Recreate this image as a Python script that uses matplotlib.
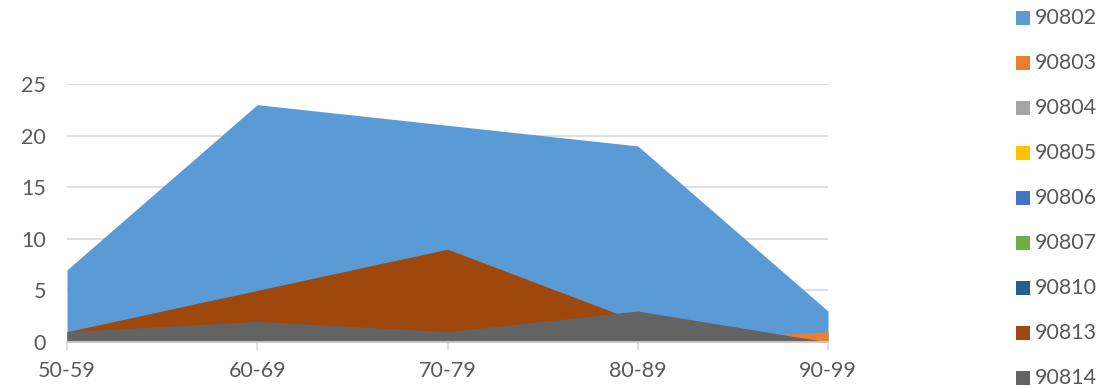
import matplotlib
matplotlib.use("Agg")
import matplotlib.pyplot as plt
from matplotlib.patches import Rectangle

categories = ["50-59", "60-69", "70-79", "80-89", "90-99"]
series_names = ["90802", "90803", "90804", "90805", "90806", "90807", "90810", "90813", "90814"]
s90802 = [7, 23, 21, 19, 3]
s90803 = [0, 0, 0, 0, 1]
s90804 = [0, 0, 0, 0, 0]
s90805 = [0, 0, 0, 0, 0]
s90806 = [0, 0, 0, 0, 0]
s90807 = [0, 0, 0, 0, 0]
s90810 = [0, 0, 0, 0, 0]
s90813 = [1, 5, 9, 2, 0]
s90814 = [1, 2, 1, 3, 0]
yticks = [0, 5, 10, 15, 20, 25]

colors = ["#5B9BD5", "#ED7D31", "#A5A5A5", "#FFC000", "#4472C4",
          "#70AD47", "#255E91", "#9E480E", "#636363"]
values = [s90802, s90803, s90804, s90805, s90806, s90807, s90810, s90813, s90814]

plt.rcParams['font.family'] = ['Lato', 'DejaVu Sans']
txt = "#595959"
fs = 15.5
W, H = 1111, 386
fig = plt.figure(figsize=(W / 100, H / 100), dpi=100)
ax = fig.add_axes([67 / W, (H - 342) / H, (828 - 67) / W, (342 - 84) / H])

x = list(range(len(categories)))
for vals, c in zip(values, colors):
    ax.fill_between(x, 0, vals, color=c, linewidth=0, zorder=2)

ax.set_xlim(0, len(categories) - 1)
ax.set_ylim(0, 25)
ax.set_yticks(yticks)
ax.set_xticks(x)
ax.set_xticklabels(categories)
ax.grid(axis='y', color="#D9D9D9", linewidth=1.2, zorder=0)
ax.set_axisbelow(True)
for s in ["top", "right", "left"]:
    ax.spines[s].set_visible(False)
ax.spines["bottom"].set_color("#D9D9D9")
ax.spines["bottom"].set_linewidth(1.2)
ax.spines["bottom"].set_zorder(3)
ax.tick_params(axis='y', length=0, pad=15, labelsize=fs, labelcolor=txt)
ax.tick_params(axis='x', length=6, width=1.2, color="#D9D9D9", pad=8,
               labelsize=fs, labelcolor=txt)

# legend drawn manually
y0, step = 18, 45
for i, (name, c) in enumerate(zip(series_names, colors)):
    yc = y0 + i * step
    fig.patches.append(Rectangle((1016 / W, (H - yc - 7) / H), 14 / W, 14 / H,
                                 transform=fig.transFigure, facecolor=c,
                                 edgecolor='none'))
    fig.text(1035 / W, (H - yc) / H, name, fontsize=fs, color=txt,
             va='center', ha='left')

fig.savefig("out.png", dpi=100)
